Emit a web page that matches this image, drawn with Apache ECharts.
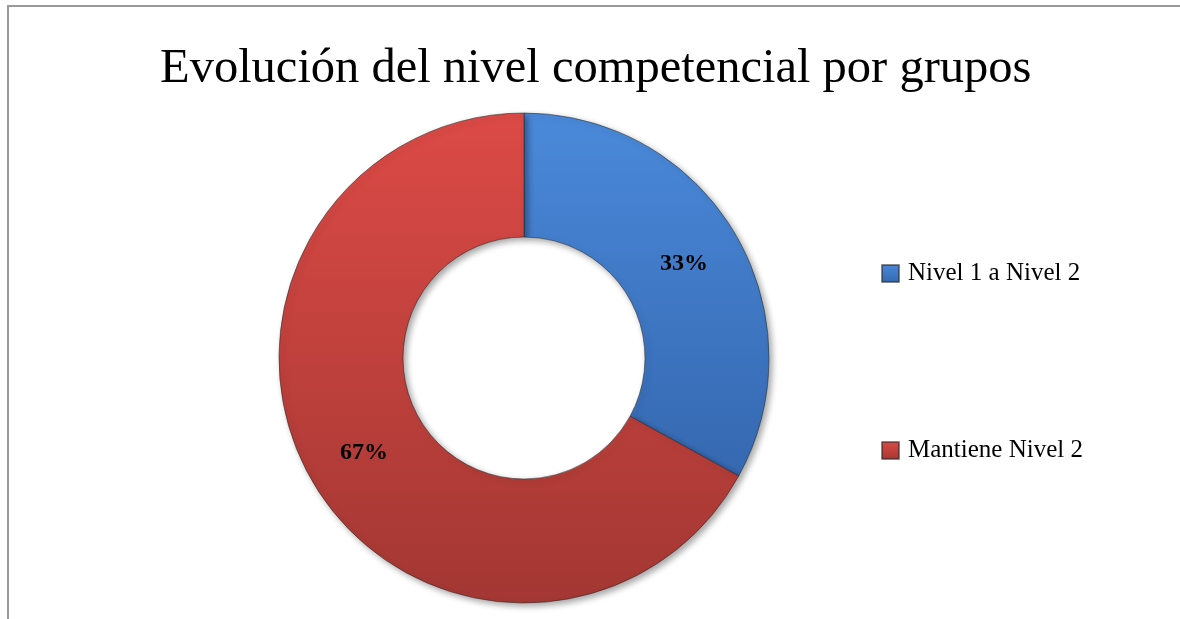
<!DOCTYPE html>
<html>
<head>
<meta charset="utf-8">
<script src="https://cdn.jsdelivr.net/npm/echarts@6/dist/echarts.min.js"></script>
<style>
  html, body { margin: 0; padding: 0; background: #ffffff; }
  #chart { width: 1180px; height: 619px; }
</style>
</head>
<body>
<div id="chart"></div>
<script>
// Categories and share of groups (percent)
const categories = ['Nivel 1 a Nivel 2', 'Mantiene Nivel 2'];
const shares = [33, 67];
const chartTitle = 'Evolución del nivel competencial por grupos';

// Beveled look: vertical gradient per slice
const sliceColors = [
  new echarts.graphic.LinearGradient(0, 0, 0, 1, [
    { offset: 0, color: '#4a89da' },
    { offset: 1, color: '#3568b0' }
  ]),
  new echarts.graphic.LinearGradient(0, 0, 0, 1, [
    { offset: 0, color: '#dc4a46' },
    { offset: 1, color: '#a33733' }
  ])
];

const serif = '"Liberation Serif", "DejaVu Serif", serif';

const chart = echarts.init(document.getElementById('chart'), null, { renderer: 'canvas' });

chart.setOption({
  backgroundColor: '#ffffff',
  animation: false,
  graphic: [
    {
      type: 'rect',
      shape: { x: 8, y: 6, width: 1200, height: 700 },
      style: { fill: 'none', stroke: '#9a9a9a', lineWidth: 2 },
      silent: true,
      z: 0
    }
  ],
  title: {
    text: chartTitle,
    left: 155,
    top: 40,
    textStyle: {
      fontFamily: serif,
      fontSize: 48.5,
      fontWeight: 'normal',
      color: '#000000'
    }
  },
  legend: {
    orient: 'vertical',
    left: 881,
    top: 261,
    padding: 0,
    itemWidth: 17,
    itemHeight: 17,
    itemGap: 152,
    icon: 'rect',
    data: categories,
    textStyle: {
      fontFamily: serif,
      fontSize: 25,
      color: '#000000',
      padding: [0, 0, 0, 4]
    }
  },
  series: [
    {
      type: 'pie',
      center: [524, 358],
      radius: [121, 245],
      startAngle: 90,
      clockwise: true,
      avoidLabelOverlap: false,
      label: {
        show: true,
        position: 'inside',
        formatter: '{d}%',
        fontFamily: serif,
        fontSize: 24,
        fontWeight: 'bold',
        color: '#000000'
      },
      labelLine: { show: false },
      itemStyle: {
        borderColor: 'rgba(40,40,40,0.55)',
        borderWidth: 1,
        shadowBlur: 6,
        shadowOffsetX: 3,
        shadowOffsetY: 3,
        shadowColor: 'rgba(0,0,0,0.35)'
      },
      emphasis: { disabled: true },
      data: categories.map((name, i) => ({
        name: name,
        value: shares[i],
        itemStyle: { color: sliceColors[i] }
      }))
    }
  ]
});
</script>
</body>
</html>
